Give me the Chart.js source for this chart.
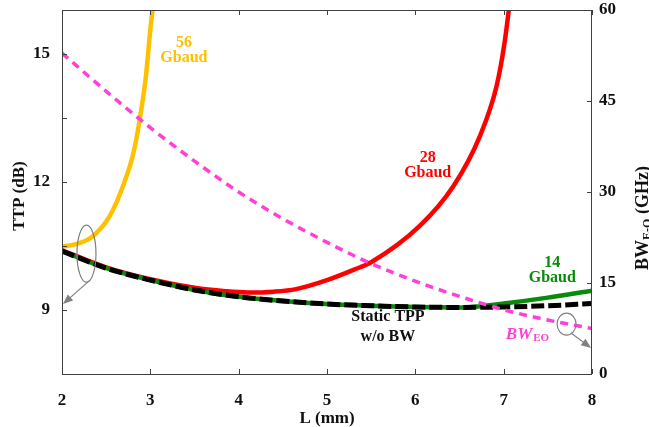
<!DOCTYPE html>
<html>
<head>
<meta charset="utf-8">
<script src="https://cdn.jsdelivr.net/npm/chart.js@4.4.1/dist/chart.umd.min.js"></script>
<style>
  body { margin: 0; background: #fff; }
</style>
</head>
<body>
<canvas id="myChart" width="649" height="427"></canvas>
<script>
// values: L (mm) -> TTP (dB), and L -> BW E-O (GHz)
var staticL = [2, 2.5, 3, 3.5, 4, 4.5, 5, 5.5, 6, 6.5, 7, 7.5, 8];
var staticTTP = [10.38, 9.98, 9.70, 9.47, 9.31, 9.21, 9.14, 9.10, 9.07, 9.06, 9.07, 9.10, 9.15];

var baud14L = [2, 2.5, 3, 3.5, 4, 4.5, 5, 5.5, 6, 6.5, 6.75, 7, 7.5, 8];
var baud14TTP = [10.38, 9.98, 9.70, 9.47, 9.31, 9.21, 9.14, 9.10, 9.07, 9.06, 9.09, 9.15, 9.29, 9.45];

var baud28L = [2, 2.5, 3, 3.5, 3.85, 4.1, 4.4, 4.65, 5, 5.3, 5.5, 6.05, 6.43, 6.73, 6.92, 7.01, 7.08];
var baud28TTP = [10.40, 10.0, 9.72, 9.52, 9.44, 9.41, 9.43, 9.49, 9.70, 9.94, 10.12, 10.97, 11.9, 13.07, 14.25, 15.26, 16.4];

var baud56L = [2, 2.2, 2.35, 2.54, 2.69, 2.81, 2.88, 2.95, 3.0, 3.04];
var baud56TTP = [10.48, 10.57, 10.73, 11.2, 11.9, 12.69, 13.47, 14.48, 15.57, 16.3];

var bwL = [2, 2.5, 3, 3.5, 4, 4.5, 5, 5.5, 6, 6.5, 7, 7.5, 8];
var bwEO = [52.9, 46.6, 40.6, 35.1, 30.0, 25.6, 21.7, 18.2, 15.3, 12.8, 10.6, 8.9, 7.5];

// axis ticks
var xTicks = [2, 3, 4, 5, 6, 7, 8];
var ttpTicks = [9, 12, 15];
var ttpMinorTicks = [7.5, 10.5, 13.5];
var bwTicks = [0, 15, 30, 45, 60];

var serif = "'Liberation Serif', 'Times New Roman', serif";

function pts(xs, ys) {
    return xs.map(function (x, i) { return { x: x, y: ys[i] }; });
}

// text labels / callouts placed in data units (L, TTP)
var labels = [
    { L: 3.38, v: 15.08, lines: ['56', 'Gbaud'], color: '#ffc000', gap: 15.5 },
    { L: 6.14, v: 12.39, lines: ['28', 'Gbaud'], color: '#ff0000', gap: 15.5 },
    { L: 7.55, v: 9.93, lines: ['14', 'Gbaud'], color: '#0a8a0a', gap: 15.5 },
    { L: 5.69, v: 8.61, lines: ['Static TPP', 'w/o BW'], color: '#111111', gap: 20 }
];
var callouts = [
    { L: 2.277, v: 10.32, rx: 9.5, ry: 28.5, fromL: 2.317, fromV: 9.70, toL: 2.011, toV: 9.14 },
    { L: 7.712, v: 8.67, rx: 9.5, ry: 11, fromL: 7.762, fromV: 8.46, toL: 7.99, toV: 8.11 }
];

function noPad(s) {
    s.paddingTop = 0; s.paddingBottom = 0; s.paddingLeft = 0; s.paddingRight = 0;
}

var decorPlugin = {
    id: 'decor',
    afterDraw(chart) {
        var ctx = chart.ctx, a = chart.chartArea;
        var sx = chart.scales.x, sy = chart.scales.y, sy1 = chart.scales.y1;
        ctx.save();

        // frame
        ctx.strokeStyle = '#404040';
        ctx.lineWidth = 1;
        ctx.strokeRect(a.left + 0.5, a.top + 0.5, a.right - a.left - 1, a.bottom - a.top);

        // inward tick marks
        ctx.beginPath();
        xTicks.forEach(function (t) {
            var p = Math.round(sx.getPixelForValue(t)) + 0.5;
            ctx.moveTo(p, a.bottom); ctx.lineTo(p, a.bottom - 5);
            ctx.moveTo(p, a.top); ctx.lineTo(p, a.top + 5);
        });
        ttpTicks.concat(ttpMinorTicks).forEach(function (t) {
            var p = Math.round(sy.getPixelForValue(t)) + 0.5;
            ctx.moveTo(a.left, p); ctx.lineTo(a.left + 5, p);
        });
        bwTicks.forEach(function (t) {
            var p = Math.round(sy1.getPixelForValue(t)) + 0.5;
            ctx.moveTo(a.right, p); ctx.lineTo(a.right - 5, p);
        });
        ctx.stroke();

        // axis titles
        ctx.fillStyle = '#111';
        ctx.font = 'bold 17px ' + serif;
        ctx.textAlign = 'center';
        ctx.textBaseline = 'alphabetic';
        ctx.fillText('L (mm)', (a.left + a.right) / 2, 423);

        ctx.save();
        ctx.translate(18, 196);
        ctx.rotate(-Math.PI / 2);
        ctx.fillText('TTP (dB)', 0, 6);
        ctx.restore();

        ctx.save();
        ctx.translate(642, 218);
        ctx.rotate(-Math.PI / 2);
        ctx.textAlign = 'left';
        ctx.font = 'bold 18px ' + serif;
        var w1 = ctx.measureText('BW').width;
        var w3 = ctx.measureText(' (GHz)').width;
        ctx.font = 'bold 12px ' + serif;
        var w2 = ctx.measureText('E-O').width;
        var x0 = -(w1 + w2 + w3) / 2;
        ctx.font = 'bold 18px ' + serif;
        ctx.fillText('BW', x0, 6);
        ctx.font = 'bold 12px ' + serif;
        ctx.fillText('E-O', x0 + w1, 9);
        ctx.font = 'bold 18px ' + serif;
        ctx.fillText(' (GHz)', x0 + w1 + w2, 6);
        ctx.restore();

        // curve labels
        ctx.textAlign = 'center';
        ctx.textBaseline = 'middle';
        ctx.font = 'bold 16px ' + serif;
        labels.forEach(function (lb) {
            var cx = sx.getPixelForValue(lb.L), cy = sy.getPixelForValue(lb.v);
            ctx.fillStyle = lb.color;
            lb.lines.forEach(function (s, i) {
                ctx.fillText(s, cx, cy + (i - (lb.lines.length - 1) / 2) * lb.gap);
            });
        });

        // BW_EO label
        var bx = sx.getPixelForValue(7.264), by = sy.getPixelForValue(8.33);
        ctx.fillStyle = '#ff3fd8';
        ctx.textBaseline = 'alphabetic';
        ctx.textAlign = 'left';
        ctx.font = 'italic bold 17px ' + serif;
        var bw = ctx.measureText('BW').width;
        ctx.font = 'bold 11px ' + serif;
        var ew = ctx.measureText('EO').width;
        var bl = bx - (bw + ew) / 2;
        ctx.font = 'italic bold 17px ' + serif;
        ctx.fillText('BW', bl, by);
        ctx.font = 'bold 11px ' + serif;
        ctx.fillText('EO', bl + bw + 1, by + 2);

        // ellipses with arrows
        ctx.strokeStyle = '#808080';
        ctx.fillStyle = '#808080';
        ctx.lineWidth = 1.2;
        callouts.forEach(function (c) {
            var cx = sx.getPixelForValue(c.L), cy = sy.getPixelForValue(c.v);
            ctx.beginPath();
            ctx.ellipse(cx, cy, c.rx, c.ry, 0, 0, Math.PI * 2);
            ctx.stroke();
            var x1 = sx.getPixelForValue(c.fromL), y1 = sy.getPixelForValue(c.fromV);
            var x2 = sx.getPixelForValue(c.toL), y2 = sy.getPixelForValue(c.toV);
            var ang = Math.atan2(y2 - y1, x2 - x1);
            ctx.beginPath();
            ctx.moveTo(x1, y1);
            ctx.lineTo(x2 - 7 * Math.cos(ang), y2 - 7 * Math.sin(ang));
            ctx.stroke();
            ctx.beginPath();
            ctx.moveTo(x2, y2);
            ctx.lineTo(x2 - 10 * Math.cos(ang) + 4 * Math.sin(ang), y2 - 10 * Math.sin(ang) - 4 * Math.cos(ang));
            ctx.lineTo(x2 - 10 * Math.cos(ang) - 4 * Math.sin(ang), y2 - 10 * Math.sin(ang) + 4 * Math.cos(ang));
            ctx.closePath();
            ctx.fill();
        });

        ctx.restore();
    }
};

window.onload = function () {
    var ctx = document.getElementById('myChart').getContext('2d');
    new Chart(ctx, {
        type: 'line',
        data: {
            datasets: [{
                label: 'BW E-O',
                data: pts(bwL, bwEO),
                yAxisID: 'y1',
                borderColor: '#ff3fd8',
                borderWidth: 3.5,
                borderDash: [8, 6],
                cubicInterpolationMode: 'monotone',
                clip: 0
            }, {
                label: 'Static TPP w/o BW',
                data: pts(staticL, staticTTP),
                yAxisID: 'y',
                borderColor: '#000000',
                borderWidth: 5,
                borderDash: [13, 4],
                cubicInterpolationMode: 'monotone',
                clip: 0
            }, {
                label: '14 Gbaud',
                data: pts(baud14L, baud14TTP),
                yAxisID: 'y',
                borderColor: '#0a8a0a',
                borderWidth: 4.5,
                cubicInterpolationMode: 'monotone',
                clip: 0
            }, {
                label: '28 Gbaud',
                data: pts(baud28L, baud28TTP),
                yAxisID: 'y',
                borderColor: '#ff0000',
                borderWidth: 4.5,
                cubicInterpolationMode: 'monotone',
                clip: 0
            }, {
                label: '56 Gbaud',
                data: pts(baud56L, baud56TTP),
                yAxisID: 'y',
                borderColor: '#ffc000',
                borderWidth: 4.5,
                cubicInterpolationMode: 'monotone',
                clip: 0
            }]
        },
        options: {
            responsive: false,
            animation: false,
            devicePixelRatio: 1,
            layout: { padding: { top: 10, left: 0, right: 0, bottom: 0 } },
            elements: { point: { radius: 0 } },
            plugins: {
                legend: { display: false },
                tooltip: { enabled: false }
            },
            scales: {
                x: {
                    type: 'linear',
                    min: 2,
                    max: 8,
                    grid: { display: false, drawTicks: false },
                    border: { display: false },
                    afterBuildTicks: function (s) { s.ticks = xTicks.map(function (v) { return { value: v }; }); },
                    afterFit: function (s) { s.height = 53; noPad(s); },
                    ticks: {
                        autoSkip: false,
                        maxRotation: 0,
                        padding: 16,
                        color: '#111',
                        font: { family: serif, size: 17, weight: 'bold' }
                    }
                },
                y: {
                    position: 'left',
                    min: 7.5,
                    max: 16.03,
                    grid: { display: false, drawTicks: false },
                    border: { display: false },
                    afterBuildTicks: function (s) { s.ticks = ttpTicks.map(function (v) { return { value: v }; }); },
                    afterFit: function (s) { s.width = 62; noPad(s); },
                    ticks: {
                        padding: 12,
                        color: '#111',
                        font: { family: serif, size: 17, weight: 'bold' }
                    }
                },
                y1: {
                    position: 'right',
                    min: 0,
                    max: 60,
                    grid: { display: false, drawTicks: false },
                    border: { display: false },
                    afterBuildTicks: function (s) { s.ticks = bwTicks.map(function (v) { return { value: v }; }); },
                    afterFit: function (s) { s.width = 57; noPad(s); },
                    ticks: {
                        padding: 7,
                        color: '#111',
                        font: { family: serif, size: 17, weight: 'bold' }
                    }
                }
            }
        },
        plugins: [decorPlugin]
    });
};
</script>
</body>
</html>
